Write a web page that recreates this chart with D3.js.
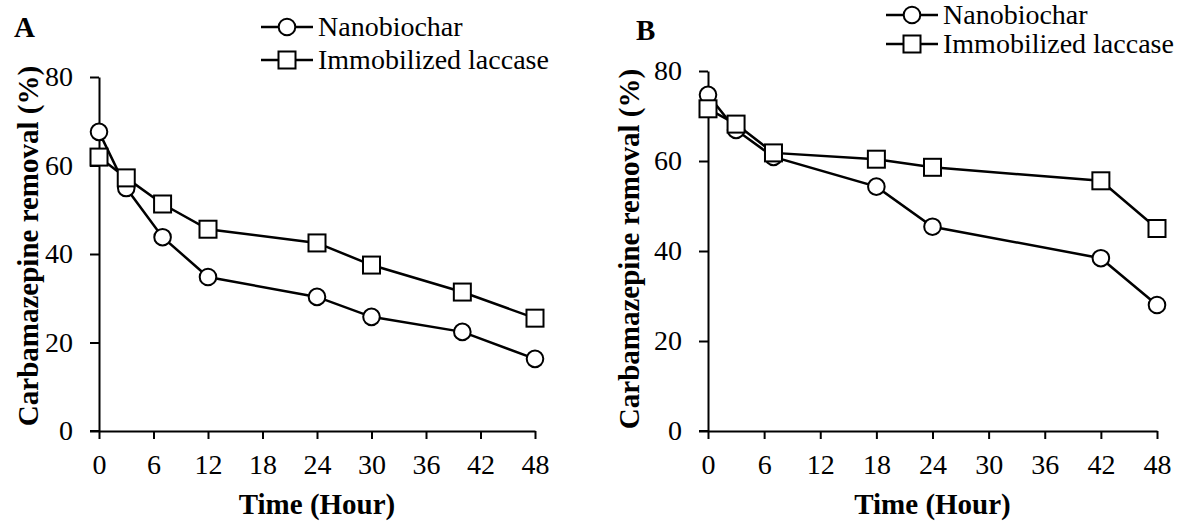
<!DOCTYPE html>
<html>
<head>
<meta charset="utf-8">
<script src="https://cdn.jsdelivr.net/npm/d3@7"></script>
<style>
  html, body { margin: 0; padding: 0; background: #fff; }
  svg { display: block; }
  text { font-family: "Liberation Serif", "Times New Roman", serif; fill: #000; }
</style>
</head>
<body>
<svg id="chart" width="1181" height="525"></svg>
<script>
// Sampling times (hours) for each experiment
const timesA = [0, 3, 7, 12, 24, 30, 40, 48];
const timesB = [0, 3, 7, 18, 24, 42, 48];

// Carbamazepine removal (%) — panel A
const nanobiocharA = [67.6, 54.9, 43.8, 34.8, 30.3, 25.8, 22.4, 16.3];
const laccaseA     = [61.9, 57.2, 51.3, 45.6, 42.5, 37.5, 31.4, 25.5];

// Carbamazepine removal (%) — panel B
const nanobiocharB = [74.7, 66.9, 60.9, 54.3, 45.4, 38.4, 28.0];
const laccaseB     = [71.6, 68.2, 61.8, 60.4, 58.6, 55.6, 45.0];

// Axis ticks and labels
const xTicks = [0, 6, 12, 18, 24, 30, 36, 42, 48];
const yTicks = [0, 20, 40, 60, 80];
const seriesNames = ["Nanobiochar", "Immobilized laccase"];
const xTitle = "Time (Hour)";
const yTitle = "Carbamazepine removal (%)";

const svg = d3.select("#chart");

function drawPanel(cfg) {
  const g = svg.append("g");
  const x = d3.scaleLinear().domain([0, 48]).range([cfg.x0, cfg.x1]);
  const y = d3.scaleLinear().domain([0, 80]).range([cfg.y0, cfg.y1]);

  // axes
  const xAxis = d3.axisBottom(x).tickValues(xTicks).tickSize(8).tickPadding(15).tickSizeOuter(0);
  const yAxis = d3.axisLeft(y).tickValues(yTicks).tickSize(9).tickPadding(17).tickSizeOuter(0);

  const gx = g.append("g").attr("transform", `translate(0,${cfg.y0})`).call(xAxis);
  const gy = g.append("g").attr("transform", `translate(${cfg.x0},0)`).call(yAxis);
  [gx, gy].forEach(a => {
    a.select(".domain").attr("stroke", "#000").attr("stroke-width", 2);
    a.selectAll(".tick line").attr("stroke", "#000").attr("stroke-width", 2);
    a.selectAll(".tick text").attr("font-size", 28).attr("font-family", "Liberation Serif").attr("fill", "#000");
  });
  // extend x baseline to the left end of the y tick at 0
  g.append("line").attr("x1", cfg.x0 - 9).attr("x2", cfg.x0).attr("y1", cfg.y0).attr("y2", cfg.y0)
    .attr("stroke", "#000").attr("stroke-width", 2);

  // axis titles
  g.append("text").attr("x", (cfg.x0 + cfg.x1) / 2).attr("y", cfg.y0 + 83)
    .attr("text-anchor", "middle").attr("font-size", 29).attr("font-weight", "bold").text(xTitle);
  g.append("text").attr("transform", `translate(${cfg.yTitleX},${cfg.yTitleY}) rotate(-90)`)
    .attr("text-anchor", "middle").attr("font-size", 29).attr("font-weight", "bold").text(yTitle);

  // panel letter
  g.append("text").attr("x", cfg.letterX).attr("y", cfg.letterY)
    .attr("font-size", 29).attr("font-weight", "bold").text(cfg.letter);

  const line = d3.line().x(d => x(d[0])).y(d => y(d[1]));
  const series = [
    { values: cfg.nano, shape: "circle" },
    { values: cfg.lac, shape: "square" }
  ];
  series.forEach(s => {
    const pts = cfg.times.map((t, i) => [t, s.values[i]]);
    g.append("path").datum(pts).attr("d", line)
      .attr("fill", "none").attr("stroke", "#000").attr("stroke-width", 2.5);
    drawMarkers(g, pts.map(p => [x(p[0]), y(p[1])]), s.shape);
  });

  // legend
  const lg = g.append("g");
  seriesNames.forEach((name, i) => {
    const ly = cfg.legendY[i];
    lg.append("line").attr("x1", cfg.legendX).attr("x2", cfg.legendX + 52)
      .attr("y1", ly).attr("y2", ly).attr("stroke", "#000").attr("stroke-width", 2.5);
    drawMarkers(lg, [[cfg.legendX + 26, ly]], i === 0 ? "circle" : "square");
    lg.append("text").attr("x", cfg.legendX + 57).attr("y", ly).attr("dy", "0.33em")
      .attr("font-size", 28).text(name);
  });
}

function drawMarkers(parent, pts, shape) {
  if (shape === "circle") {
    parent.selectAll(null).data(pts).enter().append("circle")
      .attr("cx", d => d[0]).attr("cy", d => d[1]).attr("r", 8.3)
      .attr("fill", "#fff").attr("stroke", "#000").attr("stroke-width", 2);
  } else {
    const s = 17;
    parent.selectAll(null).data(pts).enter().append("rect")
      .attr("x", d => d[0] - s / 2).attr("y", d => d[1] - s / 2)
      .attr("width", s).attr("height", s)
      .attr("fill", "#fff").attr("stroke", "#000").attr("stroke-width", 2);
  }
}

drawPanel({
  letter: "A", letterX: 14, letterY: 37,
  x0: 99, x1: 535, y0: 431, y1: 77,
  times: timesA, nano: nanobiocharA, lac: laccaseA,
  yTitleX: 38, yTitleY: 246,
  legendX: 261, legendY: [27, 60]
});

drawPanel({
  letter: "B", letterX: 636, letterY: 40,
  x0: 708, x1: 1157, y0: 431, y1: 71,
  times: timesB, nano: nanobiocharB, lac: laccaseB,
  yTitleX: 639, yTitleY: 249,
  legendX: 886, legendY: [15, 44]
});
</script>
</body>
</html>
